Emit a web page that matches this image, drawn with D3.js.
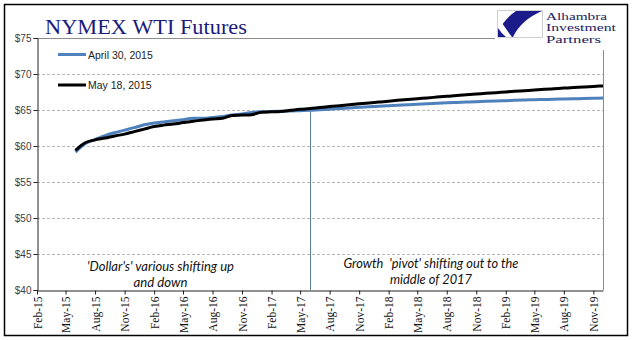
<!DOCTYPE html>
<html><head><meta charset="utf-8">
<script src="https://cdn.jsdelivr.net/npm/d3@7"></script>
<style>body{margin:0;background:#fff}svg{display:block}</style>
</head><body>
<svg id="chart" width="641" height="341"></svg>
<script>
// NYMEX WTI futures curves, monthly contracts Jun-15 .. Dec-19
const seriesNames = ["April 30, 2015", "May 18, 2015"];
const firstContract = "Jun-15";
const april30 = [59.15, 60.3, 60.9, 61.45, 61.85, 62.2, 62.55, 62.95, 63.2, 63.35,
  63.5, 63.65, 63.85, 63.85, 63.95, 64.1, 64.3, 64.45, 64.65, 64.75,
  64.8, 64.82, 64.85, 64.9, 64.95,
  65.04, 65.12, 65.21, 65.29, 65.37, 65.45, 65.52, 65.59, 65.66, 65.73,
  65.8, 65.86, 65.93, 65.99, 66.04, 66.1, 66.15, 66.2, 66.25, 66.3,
  66.34, 66.39, 66.43, 66.46, 66.5, 66.53, 66.56, 66.59, 66.62, 66.65];
const may18 = [59.4, 60.45, 60.85, 61.1, 61.4, 61.65, 62.0, 62.35, 62.7, 62.9,
  63.05, 63.25, 63.45, 63.6, 63.75, 63.85, 64.25, 64.3, 64.35, 64.7,
  64.75, 64.8, 64.95, 65.1, 65.2,
  65.34, 65.47, 65.6, 65.73, 65.86, 65.98, 66.1, 66.22, 66.34, 66.46,
  66.57, 66.68, 66.79, 66.9, 67.01, 67.11, 67.21, 67.31, 67.41, 67.51,
  67.6, 67.69, 67.78, 67.87, 67.95, 68.04, 68.12, 68.2, 68.28, 68.35];
const yTicks = [40, 45, 50, 55, 60, 65, 70, 75];
const xTickLabels = ["Feb-15","May-15","Aug-15","Nov-15","Feb-16","May-16","Aug-16","Nov-16",
  "Feb-17","May-17","Aug-17","Nov-17","Feb-18","May-18","Aug-18","Nov-18",
  "Feb-19","May-19","Aug-19","Nov-19"];
const xDomainLabels = ["Feb-15", "Dec-19"];
const pivotLabel = "Jun-17";
const notesLeft = ["'Dollar's' various shifting up", "and down"];
const notesRight = ["Growth  'pivot' shifting out to the", "middle of 2017"];
const logoLines = ["Alhambra", "Investment", "Partners"];

const parseM = d3.timeParse("%b-%y");
const start = parseM(firstContract);
const months = april30.map((_, i) => d3.timeMonth.offset(start, i));

const svg = d3.select("#chart");
const m = {left: 37, right: 603, top: 38, bottom: 290};

const x = d3.scaleTime().domain(xDomainLabels.map(parseM)).range([m.left, m.right]);
const y = d3.scaleLinear().domain([40, 75]).range([m.bottom, m.top]);

// outer frame
svg.append("rect").attr("x", 4.5).attr("y", 4.5).attr("width", 623).attr("height", 331)
  .attr("fill", "none").attr("stroke", "#000").attr("stroke-width", 1.5);

// title
svg.append("text").attr("x", 45).attr("y", 33.5)
  .attr("font-family", "'Liberation Serif', 'Times New Roman', serif")
  .attr("font-size", 21).attr("fill", "#1b1b7c")
  .attr("textLength", 202).attr("lengthAdjust", "spacingAndGlyphs")
  .text("NYMEX WTI Futures");

// gridlines
svg.append("g").selectAll("line").data(yTicks.filter(v => v > 40 && v < 75)).join("line")
  .attr("x1", m.left).attr("x2", m.right)
  .attr("y1", d => y(d) + 0.5).attr("y2", d => y(d) + 0.5)
  .attr("stroke", "#b8b8b8").attr("stroke-dasharray", "3,2");

// plot border (top and right)
svg.append("line").attr("x1", m.left).attr("x2", m.right).attr("y1", m.top + 0.5).attr("y2", m.top + 0.5)
  .attr("stroke", "#8c8c8c");
svg.append("line").attr("x1", m.right + 0.5).attr("x2", m.right + 0.5).attr("y1", m.top).attr("y2", m.bottom)
  .attr("stroke", "#8c8c8c");

// y axis
const yAxis = d3.axisLeft(y).tickValues(yTicks).tickSize(4).tickFormat(d => "$" + d);
const gy = svg.append("g").attr("transform", `translate(${m.left + 0.5},0)`).call(yAxis);
gy.select(".domain").attr("stroke", "#222");
gy.selectAll(".tick line").attr("stroke", "#222");
gy.selectAll(".tick text").attr("font-family", "'Liberation Sans', Arial, sans-serif")
  .attr("font-size", 10).attr("fill", "#404040").attr("x", -6);

// x axis
const xAxis = d3.axisBottom(x).tickValues(xTickLabels.map(parseM)).tickSize(4)
  .tickFormat(d3.timeFormat("%b-%y")).tickSizeOuter(0);
const gx = svg.append("g").attr("transform", `translate(0,${m.bottom + 0.5})`).call(xAxis);
gx.select(".domain").attr("stroke", "#222");
gx.selectAll(".tick line").attr("stroke", "#222");
gx.selectAll(".tick text")
  .attr("font-family", "'Liberation Serif', 'Times New Roman', serif")
  .attr("font-size", 11.5).attr("fill", "#111")
  .attr("transform", "rotate(-90)")
  .attr("text-anchor", "end").attr("x", -6).attr("y", 0).attr("dy", "0.35em");

// pivot marker, from the May 18 curve down to the axis
const pivotDate = parseM(pivotLabel);
const pivotIdx = months.findIndex(d => +d === +pivotDate);
svg.append("line")
  .attr("x1", Math.round(x(pivotDate)) + 0.5).attr("x2", Math.round(x(pivotDate)) + 0.5)
  .attr("y1", y(may18[pivotIdx])).attr("y2", m.bottom)
  .attr("stroke", "#5a7f99").attr("stroke-width", 1);

// curves
const line = d3.line().x((d, i) => x(months[i])).y(d => y(d)).curve(d3.curveMonotoneX);
svg.append("path").datum(april30).attr("d", line)
  .attr("fill", "none").attr("stroke", "#4f81bd").attr("stroke-width", 3);
svg.append("path").datum(may18).attr("d", line)
  .attr("fill", "none").attr("stroke", "#000").attr("stroke-width", 3);

// legend
const legend = svg.append("g");
const legColors = ["#4f81bd", "#000"];
seriesNames.forEach((name, i) => {
  const ly = 54.5 + i * 30.5;
  legend.append("line").attr("x1", 58).attr("x2", 86).attr("y1", ly).attr("y2", ly)
    .attr("stroke", legColors[i]).attr("stroke-width", 3);
  legend.append("text").attr("x", 88).attr("y", ly + 4)
    .attr("font-family", "'Liberation Sans', Arial, sans-serif").attr("font-size", 10.5)
    .attr("fill", "#222").text(name);
});

// annotations
const noteFont = "Lato, 'Open Sans', sans-serif";
function note(lines, cx, y0, widths) {
  lines.forEach((t, i) => {
    svg.append("text").attr("x", cx).attr("y", y0 + i * 16).attr("text-anchor", "middle")
      .attr("font-family", noteFont).attr("font-style", "italic").attr("font-size", 13)
      .attr("fill", "#111").style("white-space", "pre")
      .attr("textLength", widths[i]).attr("lengthAdjust", "spacingAndGlyphs")
      .text(t);
  });
}
note(notesLeft, 160.5, 271, [147, 54]);
note(notesRight, 431, 268, [175, 82]);

// logo block
const logo = svg.append("g");
logo.append("rect").attr("x", 495).attr("y", 6).attr("width", 125).attr("height", 44).attr("fill", "#fff");
logo.append("rect").attr("x", 497.5).attr("y", 10.5).attr("width", 45).attr("height", 27)
  .attr("fill", "#fff").attr("stroke", "#cfcfcf");
logo.append("path")
  .attr("d", "M516,11 L542,11 Q521,20 513,37 L498,37 L498,32 Q504,19 516,11 Z")
  .attr("fill", "#1b1b8a");
logo.append("path")
  .attr("d", "M498,15 Q503,26 512,37 L498,37 Z")
  .attr("fill", "#fff");
logo.append("path")
  .attr("d", "M498,37 L506,37 Q501,33 498,28 Z")
  .attr("fill", "#1b1b8a");
const logoWidths = [61, 70, 55];
logoLines.forEach((t, i) => {
  logo.append("text").attr("x", 546).attr("y", 19.5 + i * 11.5)
    .attr("font-family", "'Liberation Serif', 'Times New Roman', serif").attr("font-size", 10.4)
    .attr("fill", "#1b1b5e").attr("textLength", logoWidths[i]).attr("lengthAdjust", "spacingAndGlyphs")
    .text(t);
});
</script>
</body></html>
